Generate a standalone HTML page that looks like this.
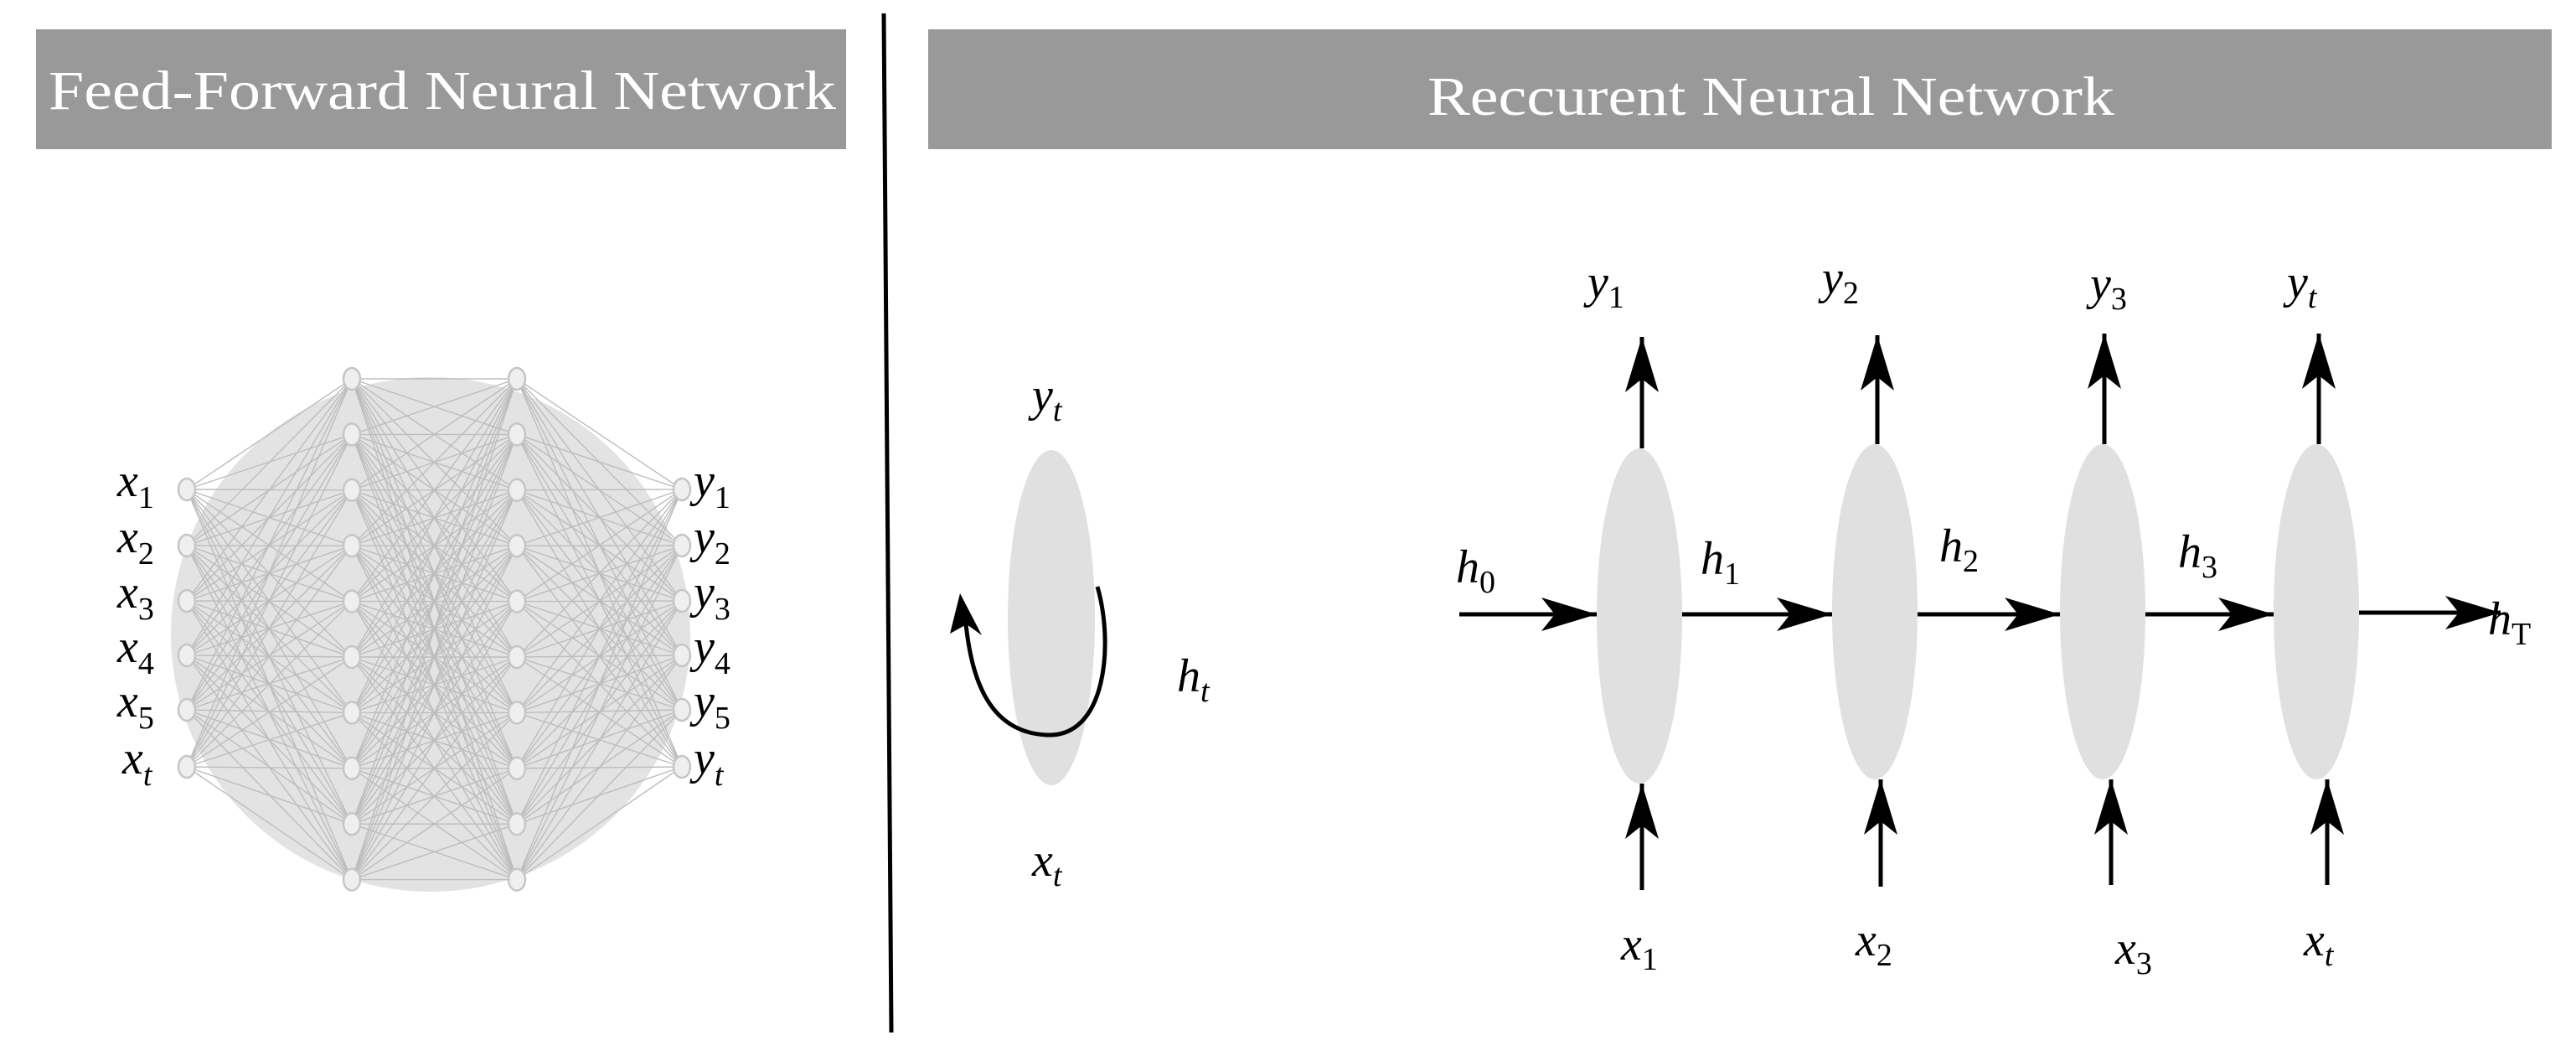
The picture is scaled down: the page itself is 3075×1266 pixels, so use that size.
<!DOCTYPE html>
<html><head><meta charset="utf-8"><style>
html,body{margin:0;padding:0;background:#fff;}
svg{display:block;}
.t{font-family:"Liberation Serif",serif;fill:#fff;font-size:66px;}
.m{font-family:"Liberation Serif",serif;font-style:italic;fill:#000;font-size:56px;}
.s{font-style:normal;font-size:38px;}
.si{font-size:38px;}
</style></head><body>
<svg id="g" width="3075" height="1266" viewBox="0 0 3075 1266" xmlns="http://www.w3.org/2000/svg">
<defs>
<marker id="ah" markerWidth="70" markerHeight="44" refX="66" refY="22" orient="auto" markerUnits="userSpaceOnUse">
<path d="M0,2 L66,22 L0,42 L16,22 Z" fill="#000"/>
</marker>
</defs>
<rect x="0" y="0" width="3075" height="1266" fill="#fff"/>
<!-- headers -->
<rect x="43" y="35" width="967" height="143" fill="#999"/>
<text class="t" x="58" y="130" textLength="940" lengthAdjust="spacingAndGlyphs">Feed-Forward Neural Network</text>
<rect x="1108" y="35" width="1938" height="143" fill="#999"/>
<text class="t" x="1704" y="137" textLength="820" lengthAdjust="spacingAndGlyphs">Reccurent Neural Network</text>
<line x1="1055" y1="16" x2="1064" y2="1232" stroke="#000" stroke-width="5"/>
<!-- FFNN -->
<ellipse cx="514" cy="757" rx="310" ry="307" fill="#e3e3e3"/>
<g id="lines" stroke="#bdbdbd" stroke-width="1.4"></g>
<g id="nodes" fill="#efefef" stroke="#c6c6c6" stroke-width="2.5"></g>
<g class="m">
<text x="140" y="592">x<tspan class="s" dy="14">1</tspan></text>
<text x="140" y="659">x<tspan class="s" dy="14">2</tspan></text>
<text x="140" y="725">x<tspan class="s" dy="14">3</tspan></text>
<text x="140" y="790">x<tspan class="s" dy="14">4</tspan></text>
<text x="140" y="855">x<tspan class="s" dy="14">5</tspan></text>
<text x="146" y="923">x<tspan class="si" dy="14">t</tspan></text>
<text x="828" y="592">y<tspan class="s" dy="14">1</tspan></text>
<text x="828" y="659">y<tspan class="s" dy="14">2</tspan></text>
<text x="828" y="725">y<tspan class="s" dy="14">3</tspan></text>
<text x="828" y="790">y<tspan class="s" dy="14">4</tspan></text>
<text x="828" y="855">y<tspan class="s" dy="14">5</tspan></text>
<text x="828" y="923">y<tspan class="si" dy="14">t</tspan></text>
</g>
<!-- single RNN cell -->
<ellipse cx="1255" cy="737" rx="52" ry="200" fill="#e0e0e0"/>
<path d="M1310,700 C1330,770 1320,880 1250,877 C1175,874 1158,800 1152,735" fill="none" stroke="#000" stroke-width="5"/>
<path d="M1146,708 L1172,758 L1154,745 L1134,756 Z" fill="#000"/>
<g class="m">
<text x="1232" y="490">y<tspan class="si" dy="12">t</tspan></text>
<text x="1232" y="1045">x<tspan class="si" dy="12">t</tspan></text>
<text x="1405" y="825">h<tspan class="si" dy="12">t</tspan></text>
</g>
<!-- unrolled -->
<g fill="#e0e0e0">
<ellipse cx="1957" cy="735" rx="51" ry="200"/>
<ellipse cx="2238" cy="730" rx="51" ry="200"/>
<ellipse cx="2510" cy="730" rx="51" ry="200"/>
<ellipse cx="2765" cy="730" rx="51" ry="200"/>
</g>
<g stroke="#000" stroke-width="5" marker-end="url(#ah)">
<line x1="1742" y1="733" x2="1906" y2="733"/>
<line x1="2008" y1="733" x2="2187" y2="733"/>
<line x1="2289" y1="733" x2="2459" y2="733"/>
<line x1="2561" y1="733" x2="2714" y2="733"/>
<line x1="2816" y1="731" x2="2985" y2="731"/>
<line x1="1960" y1="535" x2="1960" y2="402"/>
<line x1="2241" y1="530" x2="2241" y2="400"/>
<line x1="2512" y1="530" x2="2512" y2="398"/>
<line x1="2768" y1="530" x2="2768" y2="398"/>
<line x1="1960" y1="1062" x2="1960" y2="935"/>
<line x1="2245" y1="1058" x2="2245" y2="930"/>
<line x1="2520" y1="1056" x2="2520" y2="930"/>
<line x1="2778" y1="1056" x2="2778" y2="930"/>
</g>
<g class="m">
<text x="1895" y="355">y<tspan class="s" dy="12">1</tspan></text>
<text x="2175" y="350">y<tspan class="s" dy="12">2</tspan></text>
<text x="2495" y="357">y<tspan class="s" dy="12">3</tspan></text>
<text x="2730" y="355">y<tspan class="si" dy="12">t</tspan></text>
<text x="1935" y="1145">x<tspan class="s" dy="12">1</tspan></text>
<text x="2215" y="1140">x<tspan class="s" dy="12">2</tspan></text>
<text x="2525" y="1150">x<tspan class="s" dy="12">3</tspan></text>
<text x="2750" y="1140">x<tspan class="si" dy="12">t</tspan></text>
<text x="1738" y="695">h<tspan class="s" dy="12">0</tspan></text>
<text x="2030" y="685">h<tspan class="s" dy="12">1</tspan></text>
<text x="2315" y="670">h<tspan class="s" dy="12">2</tspan></text>
<text x="2600" y="677">h<tspan class="s" dy="12">3</tspan></text>
<text x="2970" y="757">h<tspan class="s" dy="12">T</tspan></text>
</g>
</svg>
<script>
(function(){
var NS="http://www.w3.org/2000/svg";
var inY=[584,651,717,782,847,915];
var hY=[];for(var i=0;i<10;i++)hY.push(452+i*66.4);
var layers=[[223,inY],[420,hY],[617,hY],[814,inY]];
var L=document.getElementById("lines"),N=document.getElementById("nodes");
for(var l=0;l<3;l++){var a=layers[l],b=layers[l+1];
for(var i=0;i<a[1].length;i++)for(var j=0;j<b[1].length;j++){
var e=document.createElementNS(NS,"line");
e.setAttribute("x1",a[0]);e.setAttribute("y1",a[1][i]);
e.setAttribute("x2",b[0]);e.setAttribute("y2",b[1][j]);L.appendChild(e);}}
for(var l=0;l<4;l++){var a=layers[l];for(var i=0;i<a[1].length;i++){
var c=document.createElementNS(NS,"ellipse");
c.setAttribute("cx",a[0]);c.setAttribute("cy",a[1][i]);
c.setAttribute("rx",10);c.setAttribute("ry",13);N.appendChild(c);}}
})();
</script>
</body></html>
